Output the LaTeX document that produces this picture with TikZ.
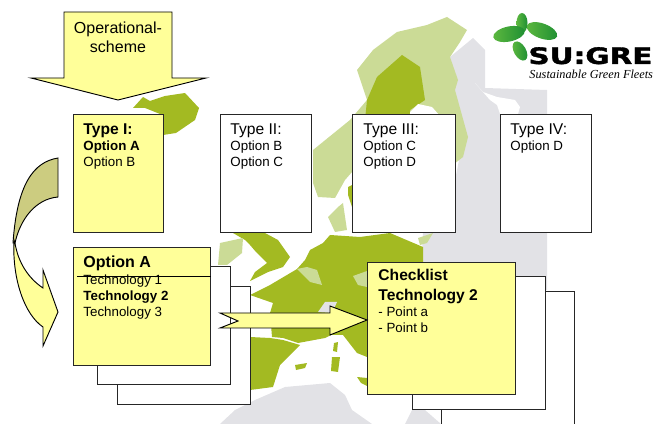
\documentclass[tikz,border=0pt]{standalone}
\usepackage{fontspec}
\setmainfont{Liberation Sans}
\newfontfamily\logofont[BoldFeatures={FakeBold=1.5}]{DejaVu Sans}
\newfontfamily\sloganfont{Liberation Serif}
\usetikzlibrary{%
  positioning,% wg. " of "
  calc
}
\definecolor{paleyellow}{HTML}{FFFF99}
\definecolor{olivefold}{HTML}{CCCC80}
\definecolor{mapdark}{HTML}{A3BA22}
\definecolor{maplight}{HTML}{CBDB96}
\definecolor{mapgrey}{HTML}{E2E2E6}
\definecolor{logogreen}{HTML}{5DB83F}
\definecolor{logodeep}{HTML}{1E8F32}

\begin{document}
\begin{tikzpicture}
  [
  x=0.75pt, y=-0.75pt, line width=0.7pt, draw=black,
  whitebox/.style={rectangle, inner sep=0pt, draw=black!85, fill=white, anchor=north west},
  yellowbox/.style={whitebox, fill=paleyellow},
  boxtext/.style={anchor=north west, inner sep=0pt, align=left, font=\fontsize{10pt}{12pt}\selectfont},
  blockarrow/.style={draw=black, fill=paleyellow, line join=miter},
  dark/.style={fill=mapdark, draw=none},
  light/.style={fill=maplight, draw=none},
  grey/.style={fill=mapgrey, draw=none},
  petal/.style={left color=logogreen, right color=logodeep, draw=none}
  ]

  \useasboundingbox (0,0) rectangle (654,424);

  % map
  \path[grey] (450,57) -- (473,38) -- (485,50) -- (485,88) -- (547,90) -- (547,290) -- (420,290) -- (423,232) -- (455,180) -- (463,140) -- (455,90) -- cycle;
  \fill[white] (475,83) -- (483,92) -- (497,97) -- (515,100) -- (520,107) -- (518,114) -- (500,114) -- (497,105) -- (490,100) -- cycle;
  \path[light] (357,70) -- (373,50) -- (397,32) -- (427,25) -- (447,17) -- (467,30) -- (460,42) -- (450,57) -- (458,80) -- (455,90) -- (468,137) -- (463,157) -- (440,175) -- (352,172) -- (345,180) -- (335,198) -- (318,197) -- (313,183) -- (313,150) -- (350,120) -- (367,100) -- cycle;
  \path[dark] (402,55) -- (420,67) -- (425,100) -- (410,110) -- (410,120) -- (365,120) -- (367,100) -- (377,77) -- cycle;
  \fill[white] (410,112) -- (418,104) -- (432,107) -- (440,116) -- (410,118) -- cycle;
  \path[dark] (352,185) -- (352,207) -- (348,195) -- (348,187) -- cycle;
  \path[light] (328,217) -- (338,207) -- (343,203) -- (347,230) -- (335,232) -- cycle;

  \path[dark] (133,108) -- (143,97) -- (150,101) -- (165,96) -- (185,93) -- (199,108) -- (195,120) -- (176,133) -- (163,135) -- (160,114) -- (145,108) -- cycle; % Iceland

  \path[dark] (233,233) -- (265,233) -- (278,240) -- (290,257) -- (283,267) -- (268,272) -- (250,281) -- (255,272) -- (267,263) -- (256,252) -- (250,245) -- (245,240) -- cycle;
  \path[light] (218,265) -- (220,243) -- (243,238) -- (242,253) -- (227,265) -- cycle;
  \path[dark] (292,272) -- (297,269) -- (305,260) -- (310,250) -- (323,243) -- (330,235) -- (360,237) -- (390,233) -- (423,247) -- (423,262) -- (367,262) -- (367,357) -- (357,353) -- (343,335) -- (331,335) -- (325,338) -- (298,343) -- (283,338) -- (272,337) -- (270,313) -- (273,303) -- (250,295) -- (270,285) -- cycle;
  \path[light] (297,269) -- (307,267) -- (317,270) -- (322,285) -- (310,282) -- cycle;
  \path[light] (353,276) -- (367,271) -- (367,287) -- (358,285) -- cycle;
  \path[grey] (318,312) -- (325,302) -- (337,302) -- (332,313) -- cycle;
  \path[light] (418,238) -- (433,233) -- (427,243) -- (420,245) -- cycle;
  \path[dark] (250,337) -- (270,338) -- (283,340) -- (300,345) -- (280,365) -- (273,387) -- (250,390) -- cycle;
  \path[dark] (295,365) -- (307,363) -- (305,368) -- (296,370) -- cycle;
  \path[dark] (334,343) -- (338,342) -- (337,352) -- (333,351) -- cycle;
  \path[dark] (332,357) -- (340,357) -- (338,372) -- (331,371) -- cycle;
  \path[dark] (357,377) -- (367,378) -- (367,386) -- (361,383) -- cycle;
  \path[grey] (220,424) -- (235,410) -- (255,400) -- (285,387) -- (330,383) -- (345,395) -- (352,410) -- (372,424) -- cycle;
  \path[grey] (405,424) -- (412,410) -- (425,410) -- (441,424) -- cycle;

  % logo
  \fill[white] (486,14) rectangle (654,87);
  \path[petal, rotate around={90:(522,23)}] (522,23) ellipse [x radius=10, y radius=5.5];
  \path[petal, rotate around={12:(509,34)}] (509,34) ellipse [x radius=16, y radius=7.5];
  \path[petal, rotate around={160:(542,31)}] (542,31) ellipse [x radius=16, y radius=7.5];
  \path[petal, rotate around={120:(520,51)}] (520,51) ellipse [x radius=10.5, y radius=6];
  \node[inner sep=0pt, anchor=base west] (logoname) at (528,64)
    {\scalebox{1.3}[1]{\logofont\bfseries\fontsize{17pt}{18pt}\selectfont SU:GRE}};
  \node[inner sep=0pt, anchor=base west] (logoslogan) at (529,79)
    {\sloganfont\itshape\fontsize{9.2pt}{11pt}\selectfont Sustainable Green Fleets};

  % top arrow
  \coordinate (schemetip) at (118,100);
  \draw[blockarrow] (64,12) -- (172,12) -- (172,78) -- (206,78) -- (schemetip) -- (31,78) -- (64,78) -- cycle;
  \node[inner sep=0pt, align=center, font=\fontsize{12pt}{14pt}\selectfont] (scheme) at (118,37) {Operational-\\scheme};

  % type boxes
  \node[yellowbox, minimum width=67.5pt, minimum height=88.5pt] (type1) at (73,114) {};
  \foreach \name/\x/\w in {type2/220/68.25pt, type3/352/77.25pt, type4/500/68.25pt} {
    \node[whitebox, minimum width=\w, minimum height=88.5pt] (\name) at (\x,114) {};
  }
  \node[boxtext] (type1text) at (83,123.5) {\fontsize{11.7pt}{14pt}\selectfont\textbf{Type I:}\\\textbf{Option A}\\Option B};
  \node[boxtext] (type2text) at (230,123.5) {\fontsize{11.7pt}{14pt}\selectfont Type II:\\Option B\\Option C};
  \node[boxtext] (type3text) at (363,123.5) {\fontsize{11.7pt}{14pt}\selectfont Type III:\\Option C\\Option D};
  \node[boxtext] (type4text) at (510,123.5) {\fontsize{11.7pt}{14pt}\selectfont Type IV:\\Option D};

  % stacked sheets
  \foreach \name/\x/\y in {optionback/117/286, optionmid/97/266} {
    \node[whitebox, minimum width=99.75pt, minimum height=88.5pt] (\name) at (\x,\y) {};
  }
  \node[yellowbox, minimum width=102.75pt, minimum height=88.5pt] (option) at (73,247) {};
  \node[boxtext] (optiontitle) at (83,255) {\fontsize{12pt}{14pt}\selectfont\textbf{Option A}};
  \node[boxtext] (optiontext) at (83,274.5) {Technology 1\\\textbf{Technology 2}\\Technology 3};
  \coordinate (rulestart) at (77,276);
  \draw (rulestart) -- (option.east |- rulestart);

  \foreach \name/\x/\y in {checkback/441/291, checkmid/412/276} {
    \node[whitebox, minimum width=99.75pt, minimum height=99.75pt] (\name) at (\x,\y) {};
  }
  \node[yellowbox, minimum width=111pt, minimum height=99pt] (check) at (367,262) {};
  \node[boxtext, font=\fontsize{11.7pt}{15pt}\selectfont\bfseries] (checktitle) at (378,269) {Checklist\\Technology 2};
  \node[boxtext] (checktext) at (378,306.5) {- Point a\\- Point b};

  % curved arrow
  \draw[blockarrow, fill=olivefold] (58,158) .. controls (33,162) and (17,185) .. (13,243) -- (15,243) .. controls (20,220) and (35,199) .. (58,197) -- cycle;
  \draw[blockarrow] (14,240) .. controls (12,280) and (25,315) .. (43,327) -- (43,346) -- (58,312) -- (43,270) -- (43,288) .. controls (28,278) and (18,262) .. (15,243) -- cycle;

  % middle arrow
  \coordinate (midtip) at (check.west |- 0,320);
  \draw[blockarrow] (220,313) -- (330,313) -- (330,306) -- (midtip) -- (330,335) -- (330,328) -- (220,328) -- (238,321) -- cycle;
\end{tikzpicture}
\end{document}
